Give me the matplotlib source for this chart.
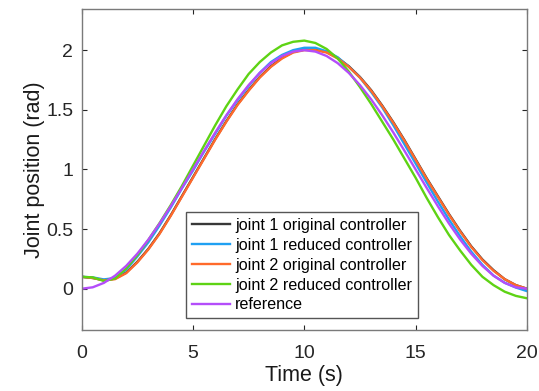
import matplotlib
matplotlib.use("Agg")
import matplotlib.pyplot as plt

plt.rcParams['font.family'] = ['Liberation Sans', 'DejaVu Sans']

t = [0, 0.5, 1, 1.5, 2, 2.5, 3, 3.5, 4, 4.5, 5, 5.5, 6, 6.5, 7, 7.5, 8, 8.5, 9, 9.5,
     10, 10.5, 11, 11.5, 12, 12.5, 13, 13.5, 14, 14.5, 15, 15.5, 16, 16.5, 17, 17.5,
     18, 18.5, 19, 19.5, 20]

j1_original = [0.10, 0.09, 0.072, 0.085, 0.135, 0.225, 0.335, 0.465, 0.615, 0.775, 0.935,
               1.095, 1.255, 1.405, 1.545, 1.665, 1.775, 1.865, 1.935, 1.985, 2.005,
               2.005, 1.985, 1.935, 1.865, 1.775, 1.665, 1.535, 1.395, 1.245, 1.085,
               0.925, 0.775, 0.625, 0.485, 0.355, 0.245, 0.155, 0.08, 0.03, 0.0]
j1_reduced = [0.10, 0.095, 0.078, 0.09, 0.16, 0.27, 0.39, 0.53, 0.68, 0.84, 0.99,
              1.15, 1.30, 1.45, 1.58, 1.70, 1.81, 1.90, 1.96, 2.00, 2.02,
              2.02, 1.99, 1.94, 1.86, 1.77, 1.65, 1.52, 1.37, 1.21, 1.05,
              0.89, 0.73, 0.58, 0.44, 0.31, 0.20, 0.11, 0.05, 0.01, -0.02]
j2_original = [0.10, 0.09, 0.07, 0.08, 0.13, 0.22, 0.33, 0.46, 0.61, 0.77, 0.93,
               1.09, 1.25, 1.40, 1.54, 1.66, 1.77, 1.86, 1.93, 1.98, 2.00,
               2.00, 1.98, 1.93, 1.86, 1.77, 1.66, 1.53, 1.39, 1.24, 1.08,
               0.92, 0.77, 0.62, 0.48, 0.35, 0.24, 0.15, 0.08, 0.03, 0.00]
j2_reduced = [0.10, 0.095, 0.065, 0.085, 0.17, 0.28, 0.41, 0.55, 0.70, 0.86, 1.03,
              1.20, 1.37, 1.53, 1.67, 1.80, 1.90, 1.98, 2.04, 2.07, 2.08,
              2.06, 2.01, 1.93, 1.82, 1.69, 1.55, 1.40, 1.25, 1.09, 0.93,
              0.76, 0.60, 0.45, 0.32, 0.20, 0.10, 0.03, -0.025, -0.06, -0.08]
reference = [0.0, 0.012, 0.049, 0.109, 0.191, 0.293, 0.412, 0.546, 0.691, 0.844, 1.0,
             1.156, 1.309, 1.454, 1.588, 1.707, 1.809, 1.891, 1.951, 1.988, 2.0,
             1.988, 1.951, 1.891, 1.809, 1.707, 1.588, 1.454, 1.309, 1.156, 1.0,
             0.844, 0.691, 0.546, 0.412, 0.293, 0.191, 0.109, 0.049, 0.012, 0.0]

labels = ['joint 1 original controller', 'joint 1 reduced controller',
          'joint 2 original controller', 'joint 2 reduced controller', 'reference']
colors = ['#383838', '#1FA0F2', '#FF6A2B', '#5ED314', '#B44DFA']
series = [j1_original, j1_reduced, j2_original, j2_reduced, reference]

fig = plt.figure(figsize=(5.39, 3.91), dpi=100)
ax = fig.add_axes([0.1514, 0.156, 0.8263, 0.821])

for y, c, lab in zip(series, colors, labels):
    ax.plot(t, y, color=c, lw=1.7, label=lab)

ax.set_xlim(0, 20)
ax.set_ylim(-0.346, 2.345)
ax.set_xticks([0, 5, 10, 15, 20])
ax.set_yticks([0, 0.5, 1, 1.5, 2])
ax.set_yticklabels(['0', '0.5', '1', '1.5', '2'])
ax.tick_params(direction='in', top=True, right=True, length=3.5, width=0.8,
               colors='#262626', labelsize=14)
ax.tick_params(axis='x', pad=11)
ax.tick_params(axis='y', pad=6)
for s in ax.spines.values():
    s.set_color('#7a7a7a')
    s.set_linewidth(1.0)
ax.set_xlabel('Time (s)', fontsize=15.5, color='#1a1a1a', labelpad=2)
ax.set_ylabel('Joint position (rad)', fontsize=15.5, color='#1a1a1a', labelpad=1)

leg = ax.legend(loc='lower left', bbox_to_anchor=(0.2344, 0.0374),
                fontsize=11.6, frameon=True, fancybox=False,
                handlelength=2.4, handletextpad=0.3, borderpad=0.35,
                labelspacing=0.3, borderaxespad=0)
leg.get_frame().set_edgecolor('#555555')
leg.get_frame().set_linewidth(1.0)
leg.get_frame().set_alpha(1)

fig.savefig('out.png', dpi=100)
